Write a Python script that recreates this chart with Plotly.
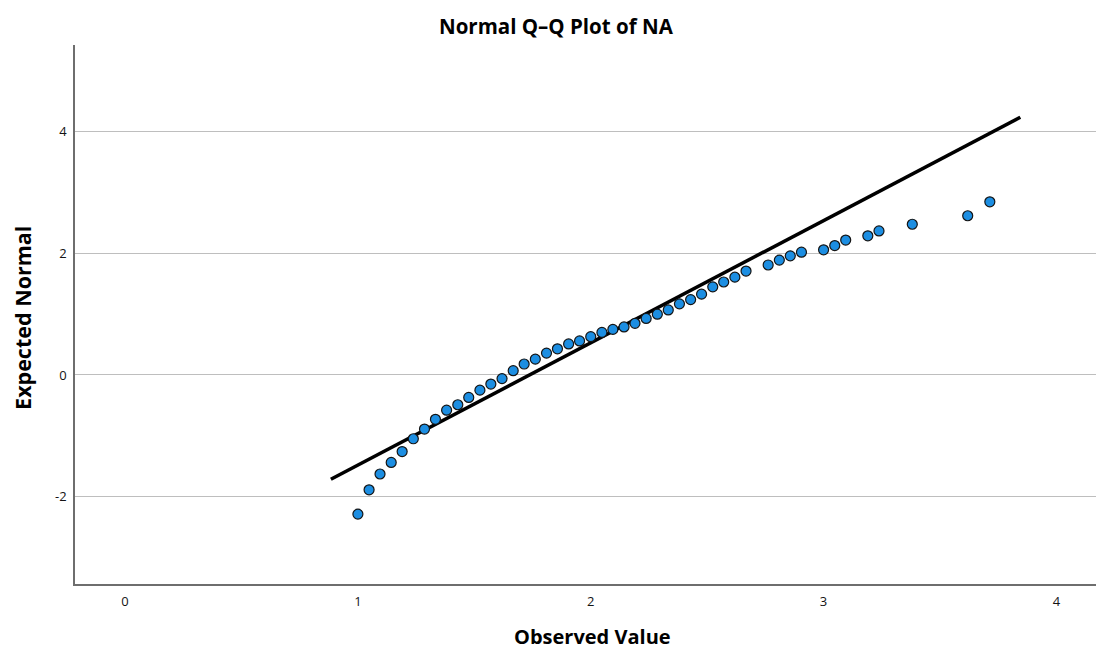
import plotly.graph_objects as go

# Observed NA values (x) and expected normal quantiles (y)
observed = [1.000, 1.048, 1.095, 1.143, 1.190, 1.238, 1.286, 1.333, 1.381, 1.429,
            1.476, 1.524, 1.571, 1.619, 1.667, 1.714, 1.762, 1.810, 1.857, 1.905,
            1.952, 2.000, 2.048, 2.095, 2.143, 2.190, 2.238, 2.286, 2.333, 2.381,
            2.429, 2.476, 2.524, 2.571, 2.619, 2.667, 2.762, 2.810, 2.857, 2.905,
            3.000, 3.048, 3.095, 3.190, 3.238, 3.381, 3.619, 3.714]
expected = [-2.29, -1.89, -1.63, -1.44, -1.26, -1.05, -0.89, -0.73, -0.58, -0.49,
            -0.37, -0.25, -0.15, -0.06, 0.07, 0.18, 0.26, 0.36, 0.43, 0.51,
            0.56, 0.63, 0.70, 0.75, 0.79, 0.85, 0.93, 1.00, 1.07, 1.17,
            1.24, 1.33, 1.45, 1.53, 1.61, 1.71, 1.81, 1.89, 1.96, 2.02,
            2.06, 2.13, 2.22, 2.29, 2.37, 2.48, 2.62, 2.85]

# Reference line endpoints (observed value, expected normal)
line_x = [0.884, 3.845]
line_y = [-1.715, 4.24]

x_ticks = [0, 1, 2, 3, 4]
y_ticks = [-2, 0, 2, 4]

fig = go.Figure()
fig.add_trace(go.Scatter(x=line_x, y=line_y, mode="lines",
                         line=dict(color="black", width=3.5),
                         hoverinfo="skip", showlegend=False))
fig.add_trace(go.Scatter(x=observed, y=expected, mode="markers",
                         marker=dict(size=10, color="rgb(28,142,226)",
                                     line=dict(color="rgb(20,20,20)", width=1.2)),
                         showlegend=False))

font_family = "Open Sans, Liberation Sans, sans-serif"

fig.update_layout(
    width=1096, height=649,
    margin=dict(l=75, r=0, t=45, b=65),
    paper_bgcolor="white", plot_bgcolor="white",
    font=dict(family=font_family, color="black"),
    showlegend=False,
    annotations=[
        dict(text="<b>Normal Q–Q Plot of NA</b>", x=0.472, y=1.035,
             xref="paper", yref="paper", showarrow=False,
             xanchor="center", yanchor="middle",
             font=dict(size=20.5, family=font_family, color="black")),
        dict(text="<b>Observed Value</b>", x=0.507, y=-0.098,
             xref="paper", yref="paper", showarrow=False,
             xanchor="center", yanchor="middle",
             font=dict(size=20, family=font_family, color="black")),
        dict(text="<b>Expected Normal</b>", x=-0.052, y=0.4935,
             xref="paper", yref="paper", showarrow=False, textangle=-90,
             xanchor="center", yanchor="middle",
             font=dict(size=21.5, family=font_family, color="black")),
    ],
)

fig.update_xaxes(range=[-0.215, 4.17], tickvals=x_ticks, ticktext=[str(v) for v in x_ticks],
                 showgrid=False, zeroline=False, showline=True,
                 linecolor="rgb(110,110,110)", linewidth=1.5,
                 ticks="", ticklabelstandoff=5,
                 tickfont=dict(size=13, color="rgb(20,20,20)"))
fig.update_yaxes(range=[-3.44, 5.43], tickvals=y_ticks, ticktext=[str(v) for v in y_ticks],
                 showgrid=True, gridcolor="rgb(190,190,190)", gridwidth=1,
                 zeroline=False, showline=True,
                 linecolor="rgb(110,110,110)", linewidth=1.5,
                 ticks="", ticklabelstandoff=4,
                 tickfont=dict(size=13, color="rgb(20,20,20)"))

fig.write_html("out.html")
